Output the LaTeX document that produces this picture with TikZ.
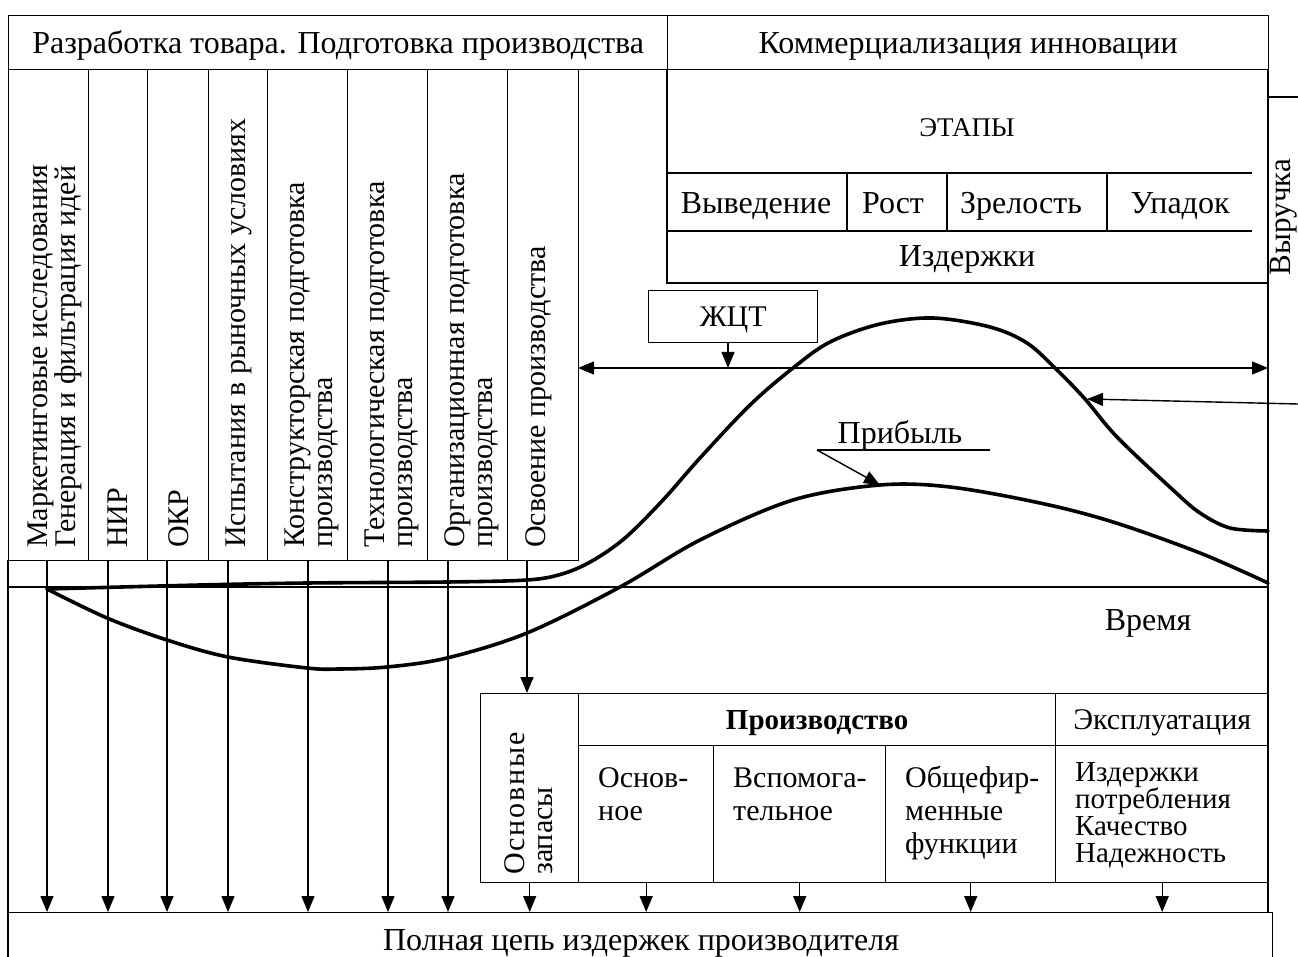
\documentclass[tikz,border=0pt]{standalone}
\usepackage{fontspec}
\setmainfont{Liberation Serif}
\usetikzlibrary{arrows.meta,calc}
\newcommand\cellstrut[1]{\rule{0pt}{#1}}
\begin{document}
\begin{tikzpicture}[x=1pt,y=-1pt,
  thin/.style={line width=1.4pt},
  cell/.style={draw, line width=1.4pt, inner sep=0pt, anchor=north west},
  big/.style={font=\fontsize{32}{32}\selectfont, inner sep=0pt, text height=21pt, text depth=0pt},
  mid/.style={font=\fontsize{30}{30}\selectfont, inner sep=0pt, text height=20pt, text depth=0pt},
  small/.style={font=\fontsize{27}{27}\selectfont, inner sep=0pt, text height=18pt, text depth=0pt},
  vtext/.style={inner sep=0pt, rotate=90, anchor=west, align=left, font=\fontsize{30}{28}\selectfont},
  ctext/.style={inner sep=0pt, anchor=north west, align=left, font=\fontsize{30}{33}\selectfont},
  arr/.style={line width=1.4pt, -{Triangle[length=16pt,width=13pt]}},
  arrboth/.style={line width=1.4pt, {Triangle[length=16pt,width=13pt]}-{Triangle[length=16pt,width=13pt]}},
  curve/.style={line width=3.6pt, line cap=round, line join=round}
]
\useasboundingbox (0,0) rectangle (1298,957);

% header row
\node[cell, big, minimum width=659pt, minimum height=54pt] (hdrL) at (8,15) {Разработка товара. Подготовка производства};
\node[cell, big, minimum width=601pt, minimum height=54pt] (hdrR) at (667,15) {Коммерциализация инновации};

% preparation columns
\node[cell, minimum width=80pt, minimum height=491pt] (c1) at (8,69) {};
\node[cell, minimum width=59pt, minimum height=491pt] (c2) at (88,69) {};
\node[cell, minimum width=61pt, minimum height=491pt] (c3) at (147,69) {};
\node[cell, minimum width=59pt, minimum height=491pt] (c4) at (208,69) {};
\node[cell, minimum width=80pt, minimum height=491pt] (c5) at (267,69) {};
\node[cell, minimum width=80pt, minimum height=491pt] (c6) at (347,69) {};
\node[cell, minimum width=80pt, minimum height=491pt] (c7) at (427,69) {};
\node[cell, minimum width=71pt, minimum height=491pt] (c8) at (507,69) {};

\node[vtext] (t1) at (55,548) {Маркетинговые исследования\\Генерация и фильтрация идей};
\node[vtext] (t2) at (118,548) {НИР};
\node[vtext] (t3) at (179,548) {ОКР};
\node[vtext] (t4) at (239,548) {Испытания в рыночных условиях};
\node[vtext] (t5) at (312,548) {Конструкторская подготовка\\производства};
\node[vtext] (t6) at (392,548) {Технологическая подготовка\\производства};
\node[vtext] (t7) at (472,548) {Организационная подготовка\\производства};
\node[vtext] (t8) at (539,548) {Освоение производства};

% frame lines
\draw[thin] (8,560) -- (8,957);
\draw[thin] (8,587) -- (1268,587);
\draw[thin] (1268,69) -- (1268,912);

% stages block
\draw[thin] (667,69) -- (667,283) -- (1268,283);
\draw[thin] (667,173) -- (1252,173);
\draw[thin] (667,231) -- (1252,231);
\draw[thin] (847,173) -- (847,231);
\draw[thin] (947,173) -- (947,231);
\draw[thin] (1107,173) -- (1107,231);
\node[small] (etapy) at (967,128) {ЭТАПЫ};
\node[big] (st1) at (756,203) {Выведение};
\node[big] (st2) at (893,203) {Рост};
\node[big] (st3) at (1021,203) {Зрелость};
\node[big] (st4) at (1180,203) {Упадок};
\node[big] (izd) at (967,256) {Издержки};

% revenue label
\draw[thin] (1268,97) -- (1298,97);
\node[font=\fontsize{31}{31}\selectfont, inner sep=0pt, text height=20pt, text depth=0pt, rotate=90] (rev) at (1280,217) {Выручка};

% life cycle span
\node[cell, mid, minimum width=169pt, minimum height=52pt] (zct) at (648,290) {ЖЦТ};
\coordinate (lcL) at (578,368);
\coordinate (lcR) at (1268,368);
\coordinate (zarr) at (728,342);
\draw[arrboth] (lcL) -- (lcR);
\draw[arr] (zarr) -- (zarr |- lcL);

% curves
\draw[curve] plot[smooth, tension=0.55] coordinates {(47,589) (200,585) (307,583) (447,582) (527,580) (562,574) (592,561) (625,538) (663,500) (700,458) (750,405) (793,368) (830,342) (880,324) (933,318) (990,327) (1027,343) (1057,370) (1085,399) (1117,437) (1173,490) (1200,513) (1230,528) (1268,531)};
\draw[curve] plot[smooth, tension=0.55] coordinates {(47,589) (107,618) (167,640) (228,657) (307,668) (339,669) (387,667) (447,658) (527,633) (620,587) (700,540) (793,500) (880,485) (950,487) (1040,503) (1113,522) (1200,553) (1268,583)};

% profit label
\node[big] (prof) at (900,433) {Прибыль};
\coordinate (pl) at (817,450);
\coordinate (pr) at (990,450);
\coordinate (pp) at (880,485);
\draw[thin] (pl) -- (pr);
\draw[arr] (pl) -- (pp);

% revenue pointer
\coordinate (rs) at (1298,404);
\coordinate (rp) at (1087,399);
\draw[arr] (rs) -- (rp);

\node[big] (time) at (1148,620) {Время};

% cost table
\node[cell, minimum width=98pt, minimum height=189pt] (zap) at (480,693) {};
\node[vtext] (tzap) at (529,875) {{\addfontfeature{LetterSpace=6}Основные}\\запасы};
\node[cell, minimum width=477pt, minimum height=52pt, inner sep=0pt, text height=20pt, text depth=0pt, font=\fontsize{29}{29}\selectfont\bfseries] (prod) at (578,693) {Производство};
\node[cell, minimum width=213pt, minimum height=52pt, mid] (expl) at (1055,693) {Эксплуатация};
\node[cell, minimum width=135pt, minimum height=137pt] (osn) at (578,745) {};
\node[cell, minimum width=172pt, minimum height=137pt] (vsp) at (713,745) {};
\node[cell, minimum width=170pt, minimum height=137pt] (obsh) at (885,745) {};
\node[cell, minimum width=213pt, minimum height=137pt] (izdp) at (1055,745) {};
\node[ctext] (tosn) at (598,765) {\cellstrut{22pt}Основ-\\ное};
\node[ctext] (tvsp) at (733,765) {\cellstrut{22pt}Вспомога-\\тельное};
\node[ctext] (tobsh) at (905,765) {\cellstrut{22pt}Общефир-\\менные\\функции};
\node[ctext, font=\fontsize{29}{27}\selectfont] (tizd) at (1075,761) {\cellstrut{20pt}Издержки\\потребления\\Качество\\Надежность};

% total cost chain
\node[cell, minimum width=1264pt, minimum height=70pt] (total) at (8,912) {};
\node[big] (ttotal) at (641,940) {Полная цепь издержек производителя};

% cost arrows
\coordinate (a1) at (47,560);
\coordinate (a2) at (108,560);
\coordinate (a3) at (167,560);
\coordinate (a4) at (228,560);
\coordinate (a5) at (308,560);
\coordinate (a6) at (388,560);
\coordinate (a7) at (448,560);
\coordinate (a8) at (527,560);
\foreach \p in {a1,a2,a3,a4,a5,a6,a7}
  \draw[arr] (\p) -- (\p |- total.north);
\draw[arr] (a8) -- (a8 |- zap.north);
\foreach \p in {zap,osn,vsp,obsh,izdp}
  \draw[arr] (\p.south) -- (\p.south |- total.north);
\end{tikzpicture}
\end{document}
